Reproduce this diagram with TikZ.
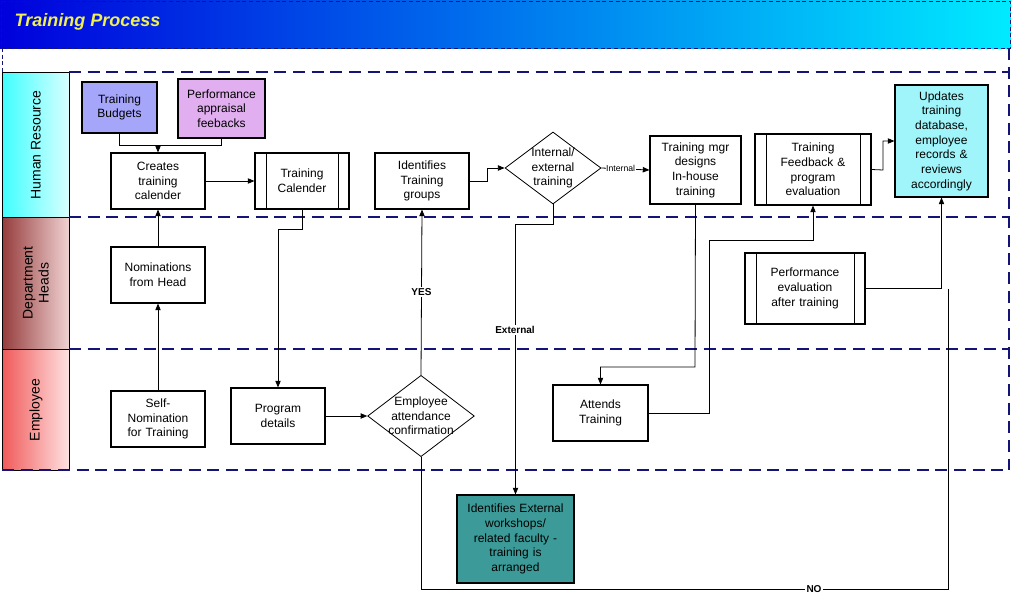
\documentclass[tikz,border=0pt]{standalone}
\usepackage{fontspec}
\setmainfont{Liberation Sans}
\usetikzlibrary{shapes.geometric,arrows.meta}
\definecolor{lanedash}{RGB}{20,20,120}
\newcommand{\bx}[7]{\node[#6,minimum width={(#4-#2)*0.75pt},minimum height={(#5-#3)*0.75pt},text width={(#4-#2)*0.75pt-4pt}] (#1) at ({(#2+#4)/2},{(#3+#5)/2}) {#7};}
\begin{document}
\begin{tikzpicture}[x=0.75pt,y=-0.75pt,font=\fontsize{9pt}{11pt}\selectfont,
  box/.style={draw,thick,fill=white,align=center,inner sep=0pt},
  lane/.style={draw=lanedash,thick,dash pattern=on 9pt off 5pt},
  ar/.style={-{Triangle[length=5pt,width=4pt]},semithick},
  ln/.style={semithick},
  dia/.style={draw,semithick,diamond,fill=white,inner sep=0pt}]
\useasboundingbox (0,0) rectangle (1011,596);
% title
\shade[left color={rgb,255:red,0;green,0;blue,220},right color={rgb,255:red,0;green,235;blue,255}] (0,0) rectangle (1011,48);
\draw[lanedash,dash pattern=on 3pt off 2pt] (1,1) rectangle (1010,48);
\node[anchor=west,text={rgb,255:red,240;green,240;blue,80},font=\fontsize{13.5pt}{15pt}\selectfont\bfseries\itshape] (title) at (10,22) {Training Process};
% lanes
\shade[left color=cyan!75,right color=cyan!15,draw=black] (2,72) rectangle (69,217);
\shade[left color={rgb,255:red,150;green,60;blue,60},right color={rgb,255:red,240;green,210;blue,210},draw=black] (2,217) rectangle (69,349);
\shade[left color={rgb,255:red,240;green,90;blue,90},right color={rgb,255:red,255;green,225;blue,225},draw=black] (2,349) rectangle (69,470);
\node[rotate=90,font=\fontsize{10.5pt}{12pt}\selectfont,align=center] (l1) at (36,145) {Human Resource};
\node[rotate=90,font=\fontsize{10.5pt}{12pt}\selectfont,align=center] (l2) at (36,283) {Department\\Heads};
\node[rotate=90,font=\fontsize{10.5pt}{12pt}\selectfont,align=center] (l3) at (36,410) {Employee};
\draw[lane] (69,72) -- (1009,72);
\draw[lane] (69,217) -- (1009,217);
\draw[lane] (69,349) -- (1009,349);
\draw[lane] (2,470) -- (1009,470);
\draw[lane] (1009,48) -- (1009,470);
\draw[lanedash,dash pattern=on 3pt off 2pt] (2,48) -- (2,72);
% nodes
\bx{tb}{82}{82}{157}{133}{box,fill={rgb,255:red,165;green,165;blue,250}}{Training\\Budgets}
\bx{pa}{178}{79}{265}{138}{box,fill={rgb,255:red,225;green,175;blue,240}}{Performance\\appraisal\\feebacks}
\bx{cr}{111}{153}{205}{209}{box}{Creates\\training\\calender}
\bx{tc}{255}{153}{349}{209}{box}{Training\\Calender}
\draw[semithick] (266,153)--(266,209) (338,153)--(338,209);
\bx{ig}{375}{153}{469}{209}{box}{Identifies\\Training\\groups}
\node[dia,minimum width=72pt,minimum height=54pt] (ie) at (553,168) {};
\node[align=center] (iet) at (553,168) {Internal/\\external\\training};
\bx{tm}{650}{136}{741}{204}{box}{Training mgr\\designs\\In-house\\training}
\bx{fb}{755}{134}{871}{205}{box}{Training\\Feedback \&\\program\\evaluation}
\draw[semithick] (766,134)--(766,205) (860,134)--(860,205);
\bx{up}{895}{85}{988}{197}{box,fill={rgb,255:red,160;green,245;blue,250}}{Updates\\training\\database,\\employee\\records \&\\reviews\\accordingly}
\bx{nh}{111}{247}{205}{303}{box}{Nominations\\from Head}
\bx{pe}{745}{253}{865}{324}{box}{Performance\\evaluation\\after training}
\draw[semithick] (756,253)--(756,324) (854,253)--(854,324);
\bx{sn}{111}{391}{205}{447}{box}{Self-\\Nomination\\for Training}
\bx{pd}{231}{388}{325}{444}{box}{Program\\details}
\node[dia,minimum width=80pt,minimum height=61pt] (ea) at (421,416) {};
\node[align=center] (eat) at (421,416) {Employee\\attendance\\confirmation};
\bx{at}{553}{385}{648}{441}{box}{Attends\\Training}
\bx{ex}{457}{495}{574}{583}{box,fill={rgb,255:red,60;green,155;blue,152}}{Identifies External\\workshops/\\related faculty -\\training is\\arranged}
% connectors
\draw[ln] (tb.south) |- (158,145);
\draw[ln] (pa.south) |- (158,145);
\draw[ar] (158,145) -- (cr.north);
\draw[ar] (cr.east) -- (tc.west);
\draw[ar] (tc.south) -- (302,229) -| (pd.north);
\draw[ar] (nh.north) -- (cr.south);
\draw[ar] (sn.north) -- (nh.south);
\draw[ar] (pd.east) -- (ea.west);
\draw[ar] (ea.north) -- (ig.south) node[pos=0.5,font=\fontsize{7.5pt}{9pt}\selectfont\bfseries,fill=white,inner sep=1pt] {YES};
\draw[ar] (ig.east) -- (487,181) |- (ie.west);
\draw[ar] (ie.east) -- (tm.west) node[pos=0.4,font=\fontsize{6.5pt}{8pt}\selectfont,fill=white,inner sep=0.5pt] {Internal};
\draw[ar] (ie.south) -- (553,224) -| (ex.north);
\node[font=\fontsize{7.5pt}{9pt}\selectfont\bfseries,fill=white,inner sep=1pt] (extl) at (515,330) {External};
\draw[ar] (tm.south) -- (695,367) -| (at.north);
\draw[ar] (at.east) -- (709,413) |- (813,240) -- (fb.south);
\draw[ar] (fb.east) -- (883,170) |- (up.west |- 0,141);
\draw[ar] (pe.east) -| (up.south);
\draw[ln] (ea.south) |- (948,589) -- (948,289);
\node[font=\fontsize{7.5pt}{9pt}\selectfont\bfseries,fill=white,inner sep=1pt] (nol) at (814,589) {NO};
\end{tikzpicture}
\end{document}
